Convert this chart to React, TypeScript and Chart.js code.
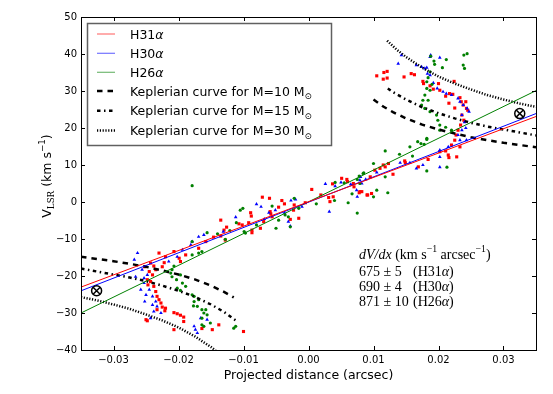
import { useEffect, useRef } from 'react';
import { Chart, registerables } from 'chart.js';
Chart.register(...registerables);

const xTicks = [-0.03, -0.02, -0.01, 0, 0.01, 0.02, 0.03];
const yTicks = [-40, -30, -20, -10, 0, 10, 20, 30, 40, 50];

const fitX = [-0.035, 0.035];
const fitH31 = [-23.0, 23.1];
const fitH30 = [-24.0, 23.9];
const fitH26 = [-30.0, 30.1];

const crossPts = [[-0.0326, -24.0], [0.0325, 23.9]];

const kep10Right = [[0.0100, 27.7], [0.0115, 25.8], [0.013, 24.3], [0.015, 22.6], [0.0175, 20.9], [0.02, 19.6], [0.0225, 18.5], [0.025, 17.5], [0.0275, 16.7], [0.03, 16.0], [0.0325, 15.4], [0.035, 14.8]];
const kep10Left = [[-0.035, -14.8], [-0.0325, -15.4], [-0.03, -16.0], [-0.0275, -16.7], [-0.025, -17.5], [-0.0225, -18.5], [-0.02, -19.6], [-0.0175, -20.9], [-0.015, -22.6], [-0.013, -24.3], [-0.0115, -25.8]];
const kep15Right = [[0.0122, 30.7], [0.013, 29.7], [0.015, 27.7], [0.0175, 25.6], [0.02, 24.0], [0.0225, 22.6], [0.025, 21.4], [0.0275, 20.4], [0.03, 19.6], [0.0325, 18.8], [0.035, 18.0]];
const kep15Left = [[-0.035, -18.0], [-0.0325, -18.8], [-0.03, -19.6], [-0.0275, -20.4], [-0.025, -21.4], [-0.0225, -22.6], [-0.02, -24.0], [-0.0175, -25.6], [-0.015, -27.7], [-0.013, -29.7], [-0.0112, -32.0]];
const kep30Right = [[0.0121, 43.6], [0.0135, 41.3], [0.015, 39.2], [0.0175, 36.3], [0.02, 33.9], [0.0225, 32.0], [0.025, 30.4], [0.0275, 28.9], [0.03, 27.7], [0.0325, 26.6], [0.035, 25.7]];
const kep30Left = [[-0.035, -25.7], [-0.0325, -26.6], [-0.03, -27.7], [-0.0275, -28.9], [-0.025, -30.4], [-0.0225, -32.0], [-0.02, -33.9], [-0.0175, -36.3], [-0.015, -39.2], [-0.0138, -40.9]];

const redPts = [
  [0.0105, 34.1], [0.0116, 35.0], [0.0121, 35.3], [0.0115, 33.2], [0.0121, 33.5], [0.0147, 33.8], [0.0158, 34.7], [0.0163, 34.4], [0.0176, 32.6], [0.0177, 32.0], [0.0187, 31.4], [0.0200, 32.0], [0.0192, 30.5], [0.0202, 30.2], [0.0224, 32.6], [0.0217, 29.3], [0.0222, 29.1], [0.0233, 28.2], [0.0235, 27.1], [0.0238, 26.2], [0.0242, 27.1], [0.0243, 25.3], [0.0245, 24.8], [0.0236, 23.5], [0.0239, 22.1], [0.0234, 20.8], [0.0230, 19.4], [0.0227, 18.1], [0.0225, 16.7], [0.0220, 15.4], [0.0115, 10.0], [0.0123, 10.4], [0.0118, 9.5], [0.0110, 9.1], [0.0102, 8.6], [0.0095, 6.8], [0.0130, 7.5], [0.0148, 11.1], [0.0149, 10.6], [0.0169, 9.5], [0.0184, 11.5], [0.0202, 13.6], [0.0211, 13.8], [0.0215, 12.7], [0.0216, 12.0], [0.0228, 12.2], [0.0233, 14.9], [0.0079, 2.8], [0.0090, 1.9], [0.0097, 2.3], [0.0211, 28.6], [0.0216, 26.7], [0.0225, 25.4],
  [-0.0135, -4.9], [-0.0126, -6.8], [-0.0128, -10.3], [-0.0107, -5.9], [-0.0102, -6.2], [-0.0092, -5.6], [-0.0089, -2.9], [-0.0088, -3.8], [-0.0087, -7.6], [-0.0087, -8.3], [-0.0074, -7.1], [-0.0069, -5.3], [-0.0071, 1.3], [-0.0060, 1.0], [-0.0059, -2.6], [-0.0058, -3.2], [-0.0056, -4.0], [-0.0046, -1.4], [-0.0041, 0.4], [-0.0037, -0.5], [-0.0028, -4.7], [-0.0023, -2.2], [-0.0015, -4.4], [-0.0022, -0.8], [-0.0005, -0.2], [0.0005, 3.4], [0.0019, 1.9], [0.0031, 1.2], [0.0033, 0.1], [0.0038, 1.4], [0.0037, 4.9], [0.0051, 6.4], [0.0059, 6.1], [0.0060, 5.5], [0.0069, 5.0], [0.0070, 4.1], [0.0078, 2.5], [0.0082, 2.8], [0.0091, 1.9],
  [-0.0230, -13.8], [-0.0222, -16.4], [-0.0225, -17.5], [-0.0243, -16.5], [-0.0238, -17.3], [-0.0245, -18.8], [-0.0240, -19.7], [-0.0248, -21.0], [-0.0243, -21.5], [-0.0247, -22.4], [-0.0238, -22.8], [-0.0235, -24.2], [-0.0233, -25.5], [-0.0230, -26.4], [-0.0227, -27.3], [-0.0225, -28.4], [-0.0220, -28.7], [-0.0221, -29.4], [-0.0233, -29.1], [-0.0250, -31.8], [-0.0248, -32.1], [-0.0207, -29.9], [-0.0202, -30.2], [-0.0197, -30.6], [-0.0192, -31.1], [-0.0192, -32.3], [-0.0207, -34.5], [-0.0164, -34.2], [-0.0148, -34.5], [-0.0138, -33.2], [-0.0100, -35.0], [-0.0220, -14.8], [-0.0199, -15.2], [-0.0197, -16.1], [-0.0189, -14.3], [-0.0169, -12.5], [-0.0158, -10.7], [-0.0146, -9.5], [-0.0135, -9.2], [-0.0130, -7.6], [-0.0207, -13.4], [-0.0252, -17.5], [-0.0235, -18.3],
];

const bluePts = [
  [0.0143, 39.7], [0.0138, 37.4], [0.0166, 37.0], [0.0174, 36.5], [0.0179, 36.1], [0.0183, 34.7], [0.0202, 39.0], [0.0188, 39.7], [0.0187, 34.3], [0.0192, 32.2], [0.0198, 30.7], [0.0207, 29.8], [0.0212, 29.3], [0.0220, 28.9], [0.0230, 28.0], [0.0233, 27.1], [0.0238, 26.2], [0.0244, 25.3], [0.0247, 24.4], [0.0182, 36.3], [0.0187, 39.2], [0.0236, 23.5], [0.0240, 21.6], [0.0236, 19.4], [0.0230, 18.1], [0.0242, 20.0], [0.0105, 8.0], [0.0079, 5.9], [0.0141, 10.6], [0.0156, 10.6], [0.0166, 9.1], [0.0176, 10.0], [0.0202, 14.0], [0.0202, 12.2], [0.0202, 9.4], [0.0233, 16.7], [0.0243, 16.7], [0.0215, 14.9],
  [-0.0131, -8.0], [-0.0112, -4.1], [-0.0080, -0.6], [-0.0073, -1.3], [-0.0068, -4.6], [-0.0061, -2.9], [-0.0051, -2.2], [-0.0037, -2.9], [-0.0031, -5.3], [-0.0028, -6.5], [-0.0027, 0.4], [-0.0020, 0.7], [-0.0010, -1.3], [0.0026, 4.9], [0.0032, -2.6], [0.0041, 4.3], [0.0050, 5.3], [0.0065, 4.8], [0.0074, 3.2], [0.0075, 1.4], [0.0080, 6.8], [0.0082, 5.0], [0.0088, 6.1],
  [-0.0253, -21.9], [-0.0245, -23.7], [-0.0250, -25.1], [-0.0240, -25.5], [-0.0235, -26.9], [-0.0240, -27.8], [-0.0252, -26.9], [-0.0238, -29.6], [-0.0243, -31.4], [-0.0227, -30.0], [-0.0253, -20.6], [-0.0248, -19.7], [-0.0256, -18.3], [-0.0169, -9.4], [-0.0161, -8.9], [-0.0181, -11.6], [-0.0179, -10.7], [-0.0194, -12.9], [-0.0202, -14.8], [-0.0215, -16.1], [-0.0176, -33.6], [-0.0174, -34.5], [-0.0171, -35.4], [-0.0166, -31.4], [-0.0156, -31.8], [-0.0266, -20.2], [-0.0258, -23.7], [-0.0233, -28.2], [-0.0263, -13.8], [-0.0268, -15.6],
];

const greenPts = [
  [0.0188, 39.4], [0.0193, 38.1], [0.0194, 37.2], [0.0212, 38.5], [0.0206, 36.3], [0.0239, 39.7], [0.0244, 40.1], [0.0187, 35.2], [0.0184, 33.6], [0.0182, 32.5], [0.0182, 30.7], [0.0187, 30.2], [0.0179, 28.9], [0.0176, 27.5], [0.0174, 26.2], [0.0179, 25.3], [0.0187, 24.4], [0.0197, 23.5], [0.0199, 22.1], [0.0202, 20.8], [0.0202, 19.4], [0.0211, 20.2], [0.0220, 19.4], [0.0182, 17.2], [0.0240, 36.1], [0.0238, 37.0], [0.0190, 31.8], [0.0184, 27.5],
  [0.0118, 13.8], [0.0140, 12.9], [0.0156, 14.9], [0.0168, 16.3], [0.0173, 15.8], [0.0178, 15.6], [0.0182, 16.9], [0.0160, 12.4], [0.0100, 10.4], [0.0084, 7.7], [0.0118, 6.8], [0.0182, 8.4], [0.0213, 9.4], [0.0105, 3.2], [0.0122, 2.5], [0.0100, 1.4], [0.0079, 5.0],
  [-0.0105, -2.2], [-0.0101, -1.7], [-0.0111, -5.6], [-0.0121, -7.7], [-0.0128, -10.1], [-0.0099, -8.0], [-0.0080, -6.2], [-0.0056, -1.1], [-0.0046, -4.9], [-0.0050, -7.1], [-0.0036, -3.5], [-0.0031, -4.0], [-0.0028, -6.7], [-0.0022, 1.0], [-0.0015, -1.7], [0.0012, -0.5], [0.0041, 5.3], [0.0040, 0.4], [0.0061, -0.2], [0.0067, 2.2], [0.0075, -3.0], [0.0075, 6.1], [0.0078, 7.0], [0.0085, 7.9], [0.0055, 5.2], [-0.0179, 4.4],
  [-0.0207, -17.3], [-0.0210, -18.3], [-0.0203, -21.0], [-0.0194, -21.9], [-0.0202, -23.3], [-0.0197, -23.9], [-0.0189, -22.8], [-0.0210, -20.2], [-0.0179, -25.1], [-0.0176, -26.9], [-0.0177, -28.1], [-0.0171, -28.2], [-0.0164, -29.1], [-0.0161, -30.0], [-0.0156, -30.5], [-0.0164, -31.4], [-0.0151, -32.7], [-0.0161, -33.6], [-0.0115, -34.1], [-0.0112, -33.6], [-0.0156, -8.3], [-0.0140, -8.6], [-0.0169, -13.8], [-0.0164, -13.4], [-0.0179, -14.3], [-0.0179, -10.7], [-0.0097, -8.4], [-0.0212, -19.2], [-0.0197, -19.7], [-0.0176, -25.5], [-0.0169, -26.4], [-0.0158, -29.1], [-0.0164, -33.2],
];

const RED = 'rgb(255,0,0)';
const BLUE = 'rgb(0,0,255)';
const GREEN = 'rgb(0,128,0)';
const DASH10 = [5.5, 5];
const DASH15 = [3.5, 3.5, 1.5, 3.5];
const DASH30 = [1.2, 1.6];

const SANS = '"DejaVu Sans"';
const SERIF = '"Liberation Serif"';

type Run = { t: string; it?: boolean; sub?: boolean; sup?: boolean; fam?: string; scale?: number };

function drawRuns(ctx: CanvasRenderingContext2D, runs: Run[], x: number, y: number, size: number, fam: string, draw = true) {
  let cx = x;
  for (const r of runs) {
    const s = (r.sub || r.sup ? size * 0.7 : size) * (r.scale || 1);
    ctx.font = `${r.it ? 'italic ' : ''}${s}px ${r.fam || fam}`;
    const dy = r.sub ? size * 0.28 : r.sup ? -size * 0.42 : 0;
    if (draw) ctx.fillText(r.t, cx, y + dy);
    cx += ctx.measureText(r.t).width;
  }
  return cx - x;
}

const fmtX = (v: number) => (v < 0 ? '\u2212' : '') + Math.abs(v).toFixed(2);
const fmtY = (v: number) => (v < 0 ? '\u2212' : '') + Math.abs(v).toString();

const pts = (a: number[][]) => a.map(([x, y]) => ({ x, y }));
const line = (xs: number[], ys: number[]) => xs.map((x, i) => ({ x, y: ys[i] }));

const decorPlugin = {
  id: 'decor',
  afterDatasetsDraw(chart: any) {
    const ctx: CanvasRenderingContext2D = chart.ctx;
    const { left, right, top, bottom } = chart.chartArea;
    const xs = chart.scales.x;
    const ys = chart.scales.y;
    ctx.save();
    // frame
    ctx.strokeStyle = '#000';
    ctx.lineWidth = 1;
    ctx.setLineDash([]);
    ctx.strokeRect(Math.round(left) + 0.5, Math.round(top) + 0.5, Math.round(right - left), Math.round(bottom - top));
    // ticks inward
    ctx.beginPath();
    for (const v of xTicks) {
      const px = Math.round(xs.getPixelForValue(v)) + 0.5;
      ctx.moveTo(px, bottom); ctx.lineTo(px, bottom - 4);
      ctx.moveTo(px, top); ctx.lineTo(px, top + 4);
    }
    for (const v of yTicks) {
      const py = Math.round(ys.getPixelForValue(v)) + 0.5;
      ctx.moveTo(left, py); ctx.lineTo(left + 4, py);
      ctx.moveTo(right, py); ctx.lineTo(right - 4, py);
    }
    ctx.stroke();

    // legend
    const lx = 87.5, ly = 23.5, lw = 244, lh = 122;
    ctx.fillStyle = '#fff';
    ctx.fillRect(lx, ly, lw, lh);
    ctx.strokeStyle = '#606060';
    ctx.lineWidth = 1.5;
    ctx.strokeRect(lx, ly, lw, lh);
    const rows = [34, 53.3, 72.3, 91, 110.7, 130.5];
    const entries: { color: string; width: number; dash: number[]; runs: Run[] }[] = [
      { color: 'rgba(255,0,0,0.55)', width: 1.2, dash: [], runs: [{ t: 'H31' }, { t: '\u03b1', it: true }] },
      { color: 'rgba(0,0,255,0.55)', width: 1.2, dash: [], runs: [{ t: 'H30' }, { t: '\u03b1', it: true }] },
      { color: 'rgba(0,128,0,0.55)', width: 1.2, dash: [], runs: [{ t: 'H26' }, { t: '\u03b1', it: true }] },
      { color: '#000', width: 2.5, dash: DASH10, runs: [{ t: 'Keplerian curve for M=10 M' }, { t: '\u2299', sub: true }] },
      { color: '#000', width: 2.5, dash: DASH15, runs: [{ t: 'Keplerian curve for M=15 M' }, { t: '\u2299', sub: true }] },
      { color: '#000', width: 2.5, dash: DASH30, runs: [{ t: 'Keplerian curve for M=30 M' }, { t: '\u2299', sub: true }] },
    ];
    entries.forEach((e, i) => {
      const y = rows[i];
      ctx.beginPath();
      ctx.strokeStyle = e.color;
      ctx.lineWidth = e.width;
      ctx.setLineDash(e.dash);
      ctx.lineCap = 'butt';
      ctx.moveTo(97, y); ctx.lineTo(115, y);
      ctx.stroke();
      ctx.setLineDash([]);
      ctx.fillStyle = '#000';
      ctx.textBaseline = 'alphabetic';
      ctx.textAlign = 'left';
      drawRuns(ctx, e.runs, 130, y + 4.5, 12.5, SANS);
    });

    // annotation
    ctx.fillStyle = '#000';
    ctx.textBaseline = 'middle';
    const afs = 14;
    drawRuns(ctx, [{ t: 'dV/dx', it: true }, { t: ' (km s' }, { t: '\u22121', sup: true }, { t: ' arcsec' }, { t: '\u22121', sup: true }, { t: ')' }], 359, 255.5, afs, SERIF);
    const ann = [
      { v: '675 \u00b1 5', id: 'H31', y: 272.5 },
      { v: '690 \u00b1 4', id: 'H30', y: 287.3 },
      { v: '871 \u00b1 10', id: 'H26', y: 302 },
    ];
    for (const a of ann) {
      drawRuns(ctx, [{ t: a.v }], 359, a.y, afs, SERIF);
      drawRuns(ctx, [{ t: '(' + a.id }, { t: '\u03b1', it: true }, { t: ')' }], 413, a.y, afs, SERIF);
    }

    // axis titles
    ctx.textBaseline = 'alphabetic';
    ctx.font = `12.5px ${SANS}`;
    const xt = 'Projected distance (arcsec)';
    const xw = ctx.measureText(xt).width;
    ctx.fillText(xt, (left + right) / 2 - xw / 2, 378.5);

    ctx.translate(46, 176);
    ctx.rotate(-Math.PI / 2);
    const yRuns: Run[] = [{ t: 'V' }, { t: 'LSR', sub: true, fam: '"DejaVu Serif"' }, { t: ' (km s' }, { t: '\u22121', sup: true }, { t: ')' }];
    const yw = drawRuns(ctx, yRuns, 0, 0, 12.5, SANS, false);
    drawRuns(ctx, yRuns, -yw / 2, 4.5, 12.5, SANS);
    ctx.restore();
  },
};

export default function App() {
  const ref = useRef<HTMLCanvasElement>(null);
  useEffect(() => {
    if (!ref.current) return;
    const kep = (data: number[][], dash: number[]) => ({
      data: pts(data), showLine: true, pointRadius: 0, borderColor: '#000', borderWidth: 2.5,
      borderDash: dash, borderCapStyle: 'butt' as const, fill: false,
    });
    const fit = (ys: number[], color: string) => ({
      data: line(fitX, ys), showLine: true, pointRadius: 0, borderColor: color, borderWidth: 1, fill: false,
    });
    const chart = new Chart(ref.current, {
      type: 'scatter',
      data: {
        datasets: [
          { data: pts(crossPts), pointStyle: 'circle', pointRadius: 5, backgroundColor: 'rgba(0,0,0,0)', borderColor: '#000', borderWidth: 1.5 },
          { data: pts(crossPts), pointStyle: 'crossRot', pointRadius: 5, borderColor: '#000', borderWidth: 1.5 },
          fit(fitH31, RED),
          fit(fitH30, BLUE),
          fit(fitH26, GREEN),
          kep(kep10Right, DASH10),
          kep(kep10Left, DASH10),
          kep(kep15Right, DASH15),
          kep(kep15Left, DASH15),
          kep(kep30Right, DASH30),
          kep(kep30Left, DASH30),
          { data: pts(greenPts), pointStyle: 'circle', pointRadius: 1.6, backgroundColor: GREEN, borderWidth: 0 },
          { data: pts(bluePts), pointStyle: 'triangle', pointRadius: 2.1, backgroundColor: BLUE, borderWidth: 0 },
          { data: pts(redPts), pointStyle: 'rect', pointRadius: 2.2, backgroundColor: RED, borderWidth: 0 },
        ] as any,
      },
      options: {
        responsive: false,
        animation: false,
        events: [],
        layout: { padding: { top: 17, right: 17, left: 0, bottom: 0 } },
        plugins: { legend: { display: false }, tooltip: { enabled: false } },
        scales: {
          x: {
            type: 'linear', min: -0.035, max: 0.035,
            grid: { display: false, drawTicks: false }, border: { display: false },
            afterBuildTicks: (s: any) => { s.ticks = xTicks.map((v) => ({ value: v })); },
            afterFit: (s: any) => { s.height = 44; },
            ticks: { font: { family: 'DejaVu Sans', size: 10 }, color: '#000', padding: 4, maxRotation: 0, autoSkip: false, callback: (v: any) => fmtX(Number(v)) },
          },
          y: {
            type: 'linear', min: -40, max: 50,
            grid: { display: false, drawTicks: false }, border: { display: false },
            afterBuildTicks: (s: any) => { s.ticks = yTicks.map((v) => ({ value: v })); },
            afterFit: (s: any) => { s.width = 81; },
            ticks: { font: { family: 'DejaVu Sans', size: 10 }, color: '#000', padding: 4, autoSkip: false, callback: (v: any) => fmtY(Number(v)) },
          },
        },
      } as any,
      plugins: [decorPlugin],
    });
    return () => chart.destroy();
  }, []);
  return (
    <div style={{ position: 'fixed', left: 0, top: 0, width: 553, height: 394, background: '#fff' }}>
      <canvas ref={ref} width={553} height={394} style={{ display: 'block' }} />
    </div>
  );
}
